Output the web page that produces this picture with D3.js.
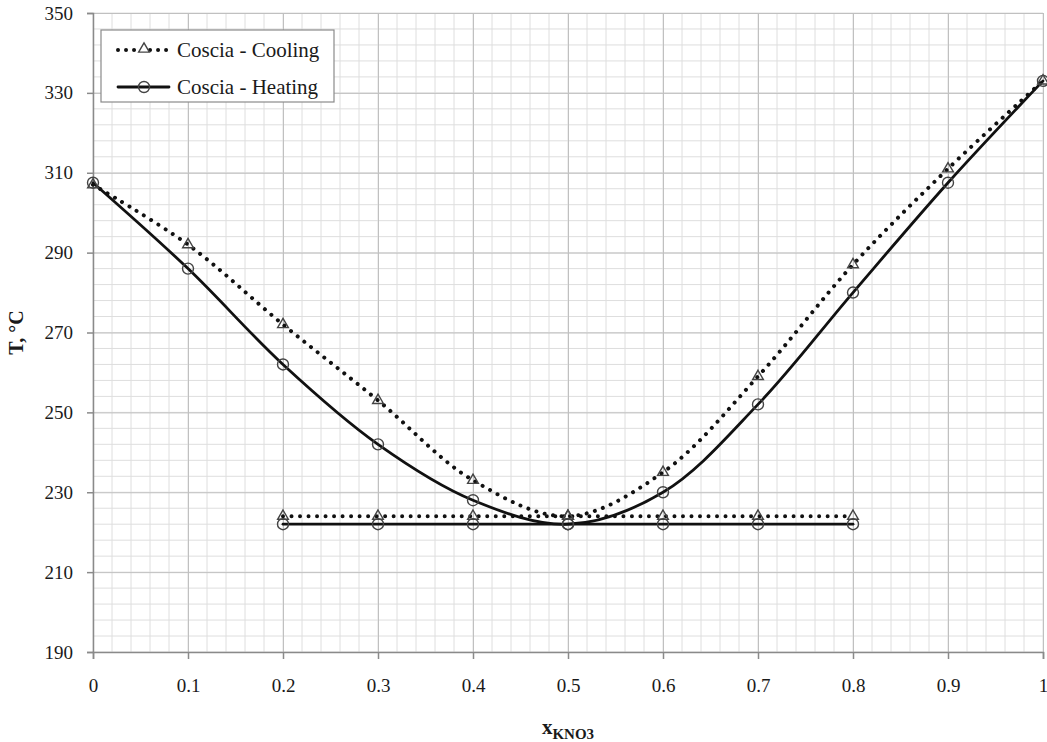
<!DOCTYPE html>
<html>
<head>
<meta charset="utf-8">
<script src="https://cdn.jsdelivr.net/npm/d3@7"></script>
<style>
  body { margin: 0; background: #fff; }
  text { font-family: "Liberation Serif", "Times New Roman", serif; fill: #1a1a1a; }
</style>
</head>
<body>
<svg width="1047" height="742"></svg>
<script>
const width = 1047;
const height = 742;

// curve data (x = mole fraction KNO3, T in °C)
const xCurve = [0, 0.1, 0.2, 0.3, 0.4, 0.5, 0.6, 0.7, 0.8, 0.9, 1];
const coolingT = [307, 292, 272, 253, 233, 224, 235, 259, 287, 311, 333];
const heatingT = [307.5, 286, 262, 242, 228, 222, 230, 252, 280, 307.5, 333];

// eutectic lines
const xFlat = [0.2, 0.3, 0.4, 0.5, 0.6, 0.7, 0.8];
const coolingFlat = [224, 224, 224, 224, 224, 224, 224];
const heatingFlat = [222, 222, 222, 222, 222, 222, 222];

const xTicks = [0, 0.1, 0.2, 0.3, 0.4, 0.5, 0.6, 0.7, 0.8, 0.9, 1];
const yTicks = [190, 210, 230, 250, 270, 290, 310, 330, 350];
const legendNames = ['Coscia - Cooling', 'Coscia - Heating'];

const margin = {left: 93, right: 4, top: 13, bottom: 90};

const svg = d3.select('svg');

const xScale = d3.scaleLinear()
  .domain([0, 1])
  .range([margin.left, width - margin.right]);

const yScale = d3.scaleLinear()
  .domain([190, 350])
  .range([height - margin.bottom, margin.top]);

// minor grid
const minorX = d3.range(0, 1.0001, 0.02);
const minorY = d3.range(190, 350.001, 4);

svg.append('g')
  .selectAll('line')
  .data(minorX)
  .enter().append('line')
  .attr('x1', d => xScale(d)).attr('x2', d => xScale(d))
  .attr('y1', yScale(190)).attr('y2', yScale(350))
  .attr('stroke', '#dedede').attr('stroke-width', 1);

svg.append('g')
  .selectAll('line')
  .data(minorY)
  .enter().append('line')
  .attr('y1', d => yScale(d)).attr('y2', d => yScale(d))
  .attr('x1', xScale(0)).attr('x2', xScale(1))
  .attr('stroke', '#dedede').attr('stroke-width', 1);

// major grid
svg.append('g')
  .call(d3.axisBottom(xScale).tickValues(xTicks).tickSize(-(yScale(190) - yScale(350))).tickFormat(''))
  .attr('transform', `translate(0,${yScale(190)})`)
  .call(g => g.select('.domain').remove())
  .call(g => g.selectAll('line').attr('stroke', '#c0c0c0'));

svg.append('g')
  .call(d3.axisLeft(yScale).tickValues(yTicks).tickSize(-(xScale(1) - xScale(0))).tickFormat(''))
  .attr('transform', `translate(${xScale(0)},0)`)
  .call(g => g.select('.domain').remove())
  .call(g => g.selectAll('line').attr('stroke', '#c0c0c0'));

// axes
const xAxis = svg.append('g')
  .attr('transform', `translate(0,${yScale(190)})`)
  .call(d3.axisBottom(xScale).tickValues(xTicks).tickSize(7).tickPadding(20).tickFormat(d => d3.format('')(d)));

const yAxis = svg.append('g')
  .attr('transform', `translate(${xScale(0)},0)`)
  .call(d3.axisLeft(yScale).tickValues(yTicks).tickSize(6).tickPadding(14));

[xAxis, yAxis].forEach(a => {
  a.select('.domain').attr('stroke', '#8a8a8a').attr('stroke-width', 1.5);
  a.selectAll('.tick line').attr('stroke', '#8a8a8a').attr('stroke-width', 1.5);
  a.selectAll('.tick text')
    .style('font-family', '"Liberation Serif", serif')
    .style('font-size', '19px')
    .attr('fill', '#1a1a1a');
});

// lines
const smooth = d3.line()
  .x(d => xScale(d[0]))
  .y(d => yScale(d[1]))
  .curve(d3.curveCatmullRom.alpha(0.5));

const straight = d3.line()
  .x(d => xScale(d[0]))
  .y(d => yScale(d[1]));

const coolPts = xCurve.map((x, i) => [x, coolingT[i]]);
const heatPts = xCurve.map((x, i) => [x, heatingT[i]]);
const coolFlatPts = xFlat.map((x, i) => [x, coolingFlat[i]]);
const heatFlatPts = xFlat.map((x, i) => [x, heatingFlat[i]]);

const dotted = {width: 4, dash: '0.01 8.5'};

function drawLine(pts, gen, dashed) {
  svg.append('path')
    .datum(pts)
    .attr('d', gen)
    .attr('fill', 'none')
    .attr('stroke', '#111')
    .attr('stroke-width', dashed ? dotted.width : 2.8)
    .attr('stroke-linecap', 'round')
    .attr('stroke-dasharray', dashed ? dotted.dash : null);
}

drawLine(heatPts, smooth, false);
drawLine(heatFlatPts, straight, false);
drawLine(coolPts, smooth, true);
drawLine(coolFlatPts, straight, true);

const tri = d3.symbol().type(d3.symbolTriangle).size(50);

function drawTriangles(pts) {
  svg.append('g')
    .selectAll('path')
    .data(pts)
    .enter().append('path')
    .attr('d', tri)
    .attr('transform', d => `translate(${xScale(d[0])},${yScale(d[1])})`)
    .attr('fill', 'none')
    .attr('stroke', '#444')
    .attr('stroke-width', 1.4);
}

function drawCircles(pts) {
  svg.append('g')
    .selectAll('circle')
    .data(pts)
    .enter().append('circle')
    .attr('cx', d => xScale(d[0]))
    .attr('cy', d => yScale(d[1]))
    .attr('r', 5.5)
    .attr('fill', 'none')
    .attr('stroke', '#444')
    .attr('stroke-width', 1.4);
}

drawCircles(heatPts);
drawCircles(heatFlatPts);
drawTriangles(coolPts);
drawTriangles(coolFlatPts);

// legend
const legend = svg.append('g');
legend.append('rect')
  .attr('x', 101).attr('y', 30)
  .attr('width', 233).attr('height', 72)
  .attr('fill', '#fff')
  .attr('stroke', '#8a8a8a')
  .attr('stroke-width', 1.2);

legendNames.forEach((name, i) => {
  const ly = 48 + i * 37;
  legend.append('line')
    .attr('x1', 118).attr('x2', 169)
    .attr('y1', ly + 2).attr('y2', ly + 2)
    .attr('stroke', '#111')
    .attr('stroke-width', i === 0 ? dotted.width : 2.8)
    .attr('stroke-linecap', 'round')
    .attr('stroke-dasharray', i === 0 ? '0.01 8' : null);
  if (i === 0) {
    legend.append('path')
      .attr('d', tri)
      .attr('transform', `translate(144,${ly + 1})`)
      .attr('fill', '#fff')
      .attr('stroke', '#444')
      .attr('stroke-width', 1.4);
  } else {
    legend.append('circle')
      .attr('cx', 144).attr('cy', ly + 2).attr('r', 5.5)
      .attr('fill', 'none')
      .attr('stroke', '#444')
      .attr('stroke-width', 1.4);
  }
  legend.append('text')
    .attr('x', 177).attr('y', ly + 9)
    .style('font-size', '21px')
    .text(name);
});

// axis titles
svg.append('text')
  .attr('transform', `translate(23,${(yScale(190) + yScale(350)) / 2}) rotate(-90)`)
  .attr('text-anchor', 'middle')
  .style('font-size', '20px')
  .style('font-weight', 'bold')
  .text('T, °C');

const xt = svg.append('text')
  .attr('x', xScale(0.5))
  .attr('y', 734)
  .attr('text-anchor', 'middle')
  .style('font-size', '21px')
  .style('font-weight', 'bold');
xt.append('tspan').text('x');
xt.append('tspan').attr('dy', 5).style('font-size', '15px').text('KNO3');
</script>
</body>
</html>
